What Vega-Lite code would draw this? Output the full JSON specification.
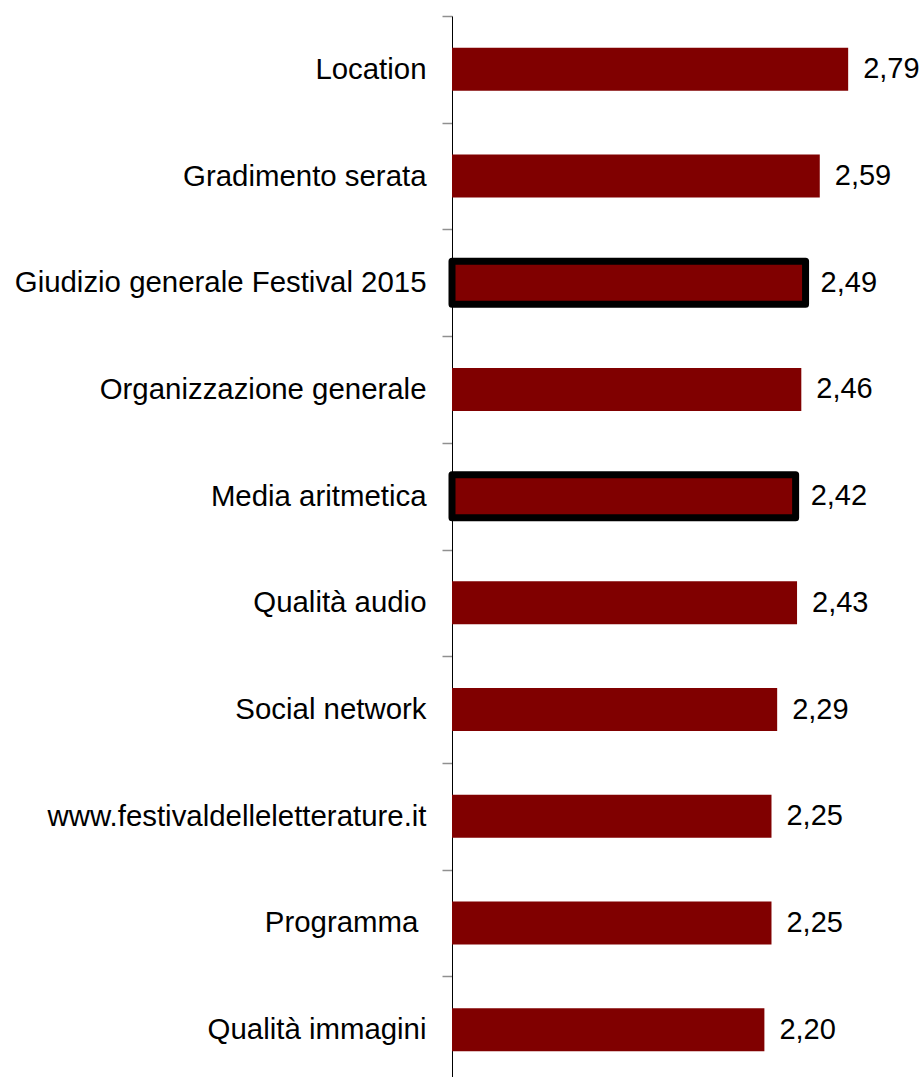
{
  "$schema": "https://vega.github.io/schema/vega-lite/v6.json",
  "autosize": "none",
  "width": 471,
  "height": 1061,
  "padding": {"left": 452, "top": 16, "right": 0, "bottom": 0},
  "background": "white",
  "config": {
    "view": {"stroke": null},
    "font": "Liberation Sans",
    "locale": {"number": {"decimal": ",", "thousands": ".", "grouping": [3], "currency": ["€", ""]}}
  },
  "data": {
    "values": [
      {"voce": "Location", "valore": 2.79, "evidenza": false},
      {"voce": "Gradimento serata", "valore": 2.59, "evidenza": false},
      {"voce": "Giudizio generale Festival 2015", "valore": 2.49, "evidenza": true},
      {"voce": "Organizzazione generale", "valore": 2.46, "evidenza": false},
      {"voce": "Media aritmetica", "valore": 2.42, "evidenza": true},
      {"voce": "Qualità audio", "valore": 2.43, "evidenza": false},
      {"voce": "Social network", "valore": 2.29, "evidenza": false},
      {"voce": "www.festivaldelleletterature.it", "valore": 2.25, "evidenza": false},
      {"voce": "Programma\u00a0\u200b", "valore": 2.25, "evidenza": false},
      {"voce": "Qualità immagini", "valore": 2.20, "evidenza": false}
    ]
  },
  "encoding": {
    "y": {
      "field": "voce",
      "type": "nominal",
      "sort": null,
      "scale": {"paddingInner": 0, "paddingOuter": 0, "range": [0, 1067]},
      "axis": {
        "title": null,
        "domainColor": "#000000",
        "domainWidth": 1,
        "tickColor": "#909090",
        "tickSize": 10,
        "tickWidth": 1.5,
        "tickBand": "extent",
        "labelFontSize": 29.4,
        "labelColor": "#000000",
        "labelPadding": 16,
        "labelLimit": 600,
        "labelFont": "Liberation Sans"
      }
    },
    "x": {
      "field": "valore",
      "type": "quantitative",
      "scale": {"domain": [0, 3.317], "nice": false, "zero": true},
      "axis": null
    }
  },
  "layer": [
    {
      "mark": {"type": "bar", "size": 43, "color": "#800000", "strokeWidth": 7, "strokeJoin": "round"},
      "encoding": {
        "stroke": {"condition": {"test": "datum.evidenza", "value": "#000000"}, "value": null}
      }
    },
    {
      "mark": {"type": "text", "align": "left", "baseline": "middle", "dx": 15, "fontSize": 29, "color": "#000000", "font": "Liberation Sans"},
      "encoding": {
        "text": {"field": "valore", "type": "quantitative", "format": ".2f"}
      }
    }
  ]
}
